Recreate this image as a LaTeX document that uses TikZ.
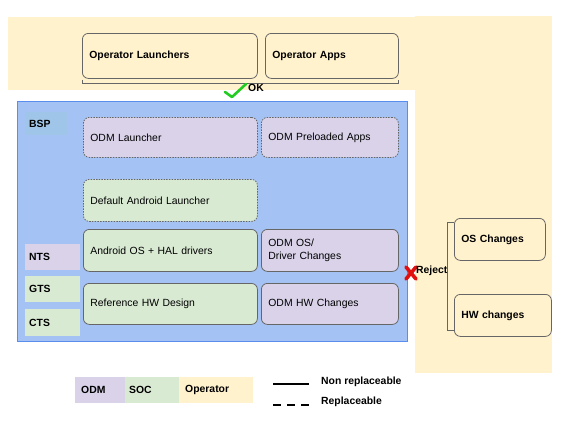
\documentclass[tikz,border=0pt]{standalone}
\usepackage{fontspec}
\setmainfont{Liberation Sans}
\usetikzlibrary{positioning}

\definecolor{cream}{HTML}{FFF2CC}
\definecolor{bspfill}{HTML}{A4C2F4}
\definecolor{bsptag}{HTML}{9FC5E8}
\definecolor{bspline}{HTML}{5B8DEF}
\definecolor{odm}{HTML}{D9D2E9}
\definecolor{soc}{HTML}{D9EAD3}
\definecolor{boxgray}{HTML}{666666}
\definecolor{okgreen}{HTML}{22CC22}
\definecolor{nored}{HTML}{E01010}

\tikzset{
    txt/.style={font=\fontsize{10.4}{12.5}\selectfont},
    bold/.style={font=\fontsize{10.4}{12.5}\selectfont\bfseries},
    card/.style 2 args={draw=boxgray, line width=0.8pt, rounded corners=6pt, anchor=north west,
        align=left, inner xsep=7pt, inner ysep=2pt, text width=#1, minimum height=#2},
    tag/.style 2 args={bold, anchor=north west, align=left, inner xsep=4pt, inner ysep=2pt,
        text width=#1, minimum height=#2},
}

\begin{document}
\begin{tikzpicture}[x=1pt,y=-1pt]
    \useasboundingbox (0,0) rectangle (576,432);

    % Operator area
    \fill[cream] (8,17) rectangle (415,90);
    \fill[cream] (415,16) rectangle (552,373);

    % Operator boxes
    \node[card={161pt}{45pt}, bold, fill=cream] (oplaunch) at (82,33) {Operator Launchers};
    \node[card={119pt}{45pt}, bold, fill=cream] (opapps) at (265,33) {Operator Apps};
    \draw[boxgray, line width=0.8pt] ([yshift=-1pt]oplaunch.south west) -- ++(0,4) -| ([yshift=-1pt]opapps.south east);

    % OK
    \draw[okgreen, line width=2.6pt, line cap=round, line join=round] (225,92) -- (232,97) -- (246,84);
    \node[bold, anchor=west, inner sep=0pt] (ok) at (248,88) {OK};

    % BSP
    \draw[fill=bspfill, draw=bspline, line width=0.8pt] (17,101) rectangle (407,341);
    \node[tag={34pt}{23pt}, fill=bsptag] (bsp) at (25,112) {BSP\\[-1pt]};

    % ODM / SOC layers
    \node[card={160pt}{40pt}, txt, fill=odm, dashed, dash pattern=on 1.5pt off 1.2pt] (odmlaunch) at (83,117) {ODM Launcher};
    \node[card={123pt}{40pt}, txt, fill=odm, dashed, dash pattern=on 1.5pt off 1.2pt] (odmapps) at (261,117) {ODM Preloaded Apps};
    \node[card={160pt}{42pt}, txt, fill=soc, dashed, dash pattern=on 1.5pt off 1.2pt] (deflaunch) at (83,179) {Default Android Launcher};
    \node[card={160pt}{42pt}, txt, fill=soc] (aosp) at (83,229) {Android OS + HAL drivers};
    \node[card={123pt}{42pt}, txt, fill=odm] (odmos) at (261,229) {ODM OS/\\Driver Changes};
    \node[card={160pt}{41pt}, txt, fill=soc] (refhw) at (83,283) {Reference HW Design};
    \node[card={123pt}{41pt}, txt, fill=odm] (odmhw) at (261,283) {ODM HW Changes};

    % Test suites
    \node[tag={47pt}{26pt}, fill=odm] (nts) at (25,244) {NTS};
    \node[tag={47pt}{26pt}, fill=soc] (gts) at (25,276) {GTS};
    \node[tag={47pt}{27pt}, fill=soc] (cts) at (25,309) {CTS};

    % Rejected changes
    \node[card={77pt}{42pt}, bold, fill=cream] (osch) at (454,218) {OS Changes};
    \node[card={83pt}{42pt}, bold, fill=cream] (hwch) at (454,294) {HW changes};
    \draw[boxgray, line width=0.8pt] ([yshift=-4pt]osch.north west) -- ++(-7,0) |- ([yshift=6pt]hwch.south west);
    \draw[nored, line width=3.6pt, line cap=round] (406,267) -- (416,279) (416,267) -- (406,279);
    \node[bold, anchor=west, inner sep=0pt] (reject) at (416,271) {Reject};

    % Legend
    \node[tag={38pt}{26pt}, fill=odm, inner xsep=6pt] (legodm) at (75,377) {ODM};
    \node[tag={46pt}{26pt}, fill=soc, inner xsep=4pt] (legsoc) at (125,377) {SOC};
    \node[tag={62pt}{26pt}, fill=cream, inner xsep=6pt] (legop) at (179,377) {Operator};
    \node[bold, anchor=west, inner sep=0pt] (nonrep) at (321,382) {Non replaceable};
    \node[bold, anchor=west, inner sep=0pt] (rep) at (321,402) {Replaceable};
    \coordinate (solid) at (273,384);
    \coordinate (dash) at (273,405);
    \draw[line width=2pt] (solid) -- ++(36,0);
    \draw[line width=2pt, dash pattern=on 8pt off 6pt] (dash) -- ++(36,0);
\end{tikzpicture}
\end{document}
